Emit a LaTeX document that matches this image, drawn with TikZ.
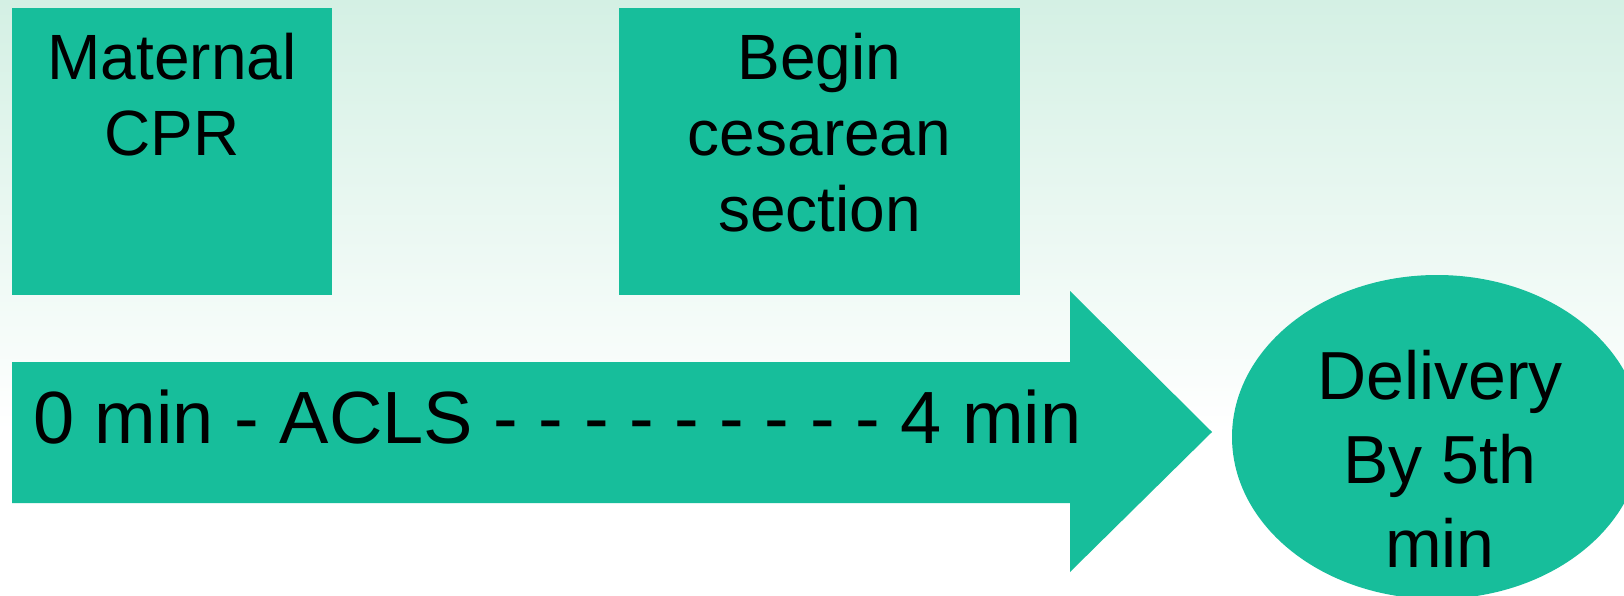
\documentclass[tikz,border=0pt]{standalone}
\usepackage{fontspec}
\setmainfont{Liberation Sans}
\usetikzlibrary{shapes.geometric}
\definecolor{teal}{RGB}{23,190,155}
\definecolor{mint}{RGB}{212,240,228}
\tikzset{
  panel/.style={fill=teal, draw=none, inner sep=0pt},
  lbl/.style={inner sep=0pt, align=center, text=black},
}
\begin{document}
\begin{tikzpicture}[x=1pt, y=-1pt]
  \useasboundingbox (0,0) rectangle (1624,596);
  \clip (0,0) rectangle (1624,596);
  % soft mint background fading to white
  \shade[top color=mint, bottom color=white] (0,0) rectangle (1624,430);
  \fill[white] (0,430) rectangle (1624,596);

  % two event boxes
  \node[panel, anchor=north west, minimum width=320pt, minimum height=287pt] (cpr) at (12,8) {};
  \node[lbl, anchor=north, font=\fontsize{64}{76}\selectfont] (cprtext) at (172,33) {Maternal\\CPR};

  \node[panel, anchor=north west, minimum width=401pt, minimum height=287pt] (cs) at (619,8) {};
  \node[lbl, anchor=north, font=\fontsize{64}{76}\selectfont] (cstext) at (819.5,33) {Begin\\cesarean\\section};

  % timeline arrow
  \fill[teal] (12,362) -- (1070,362) -- (1070,291) -- (1212,432) -- (1070,572) -- (1070,503) -- (12,503) -- cycle;
  \node[lbl, anchor=base west, font=\fontsize{74}{84}\selectfont] (timeline) at (33,443) {0 min - ACLS - - - - - - - - - 4 min};

  % delivery ellipse
  \node[panel, ellipse, minimum width=410pt, minimum height=324pt] (delivery) at (1437,437) {};
  \node[lbl, anchor=north, font=\fontsize{68}{84}\selectfont] (deltext) at (1440,350) {Delivery\\By 5th\\min};
\end{tikzpicture}
\end{document}
